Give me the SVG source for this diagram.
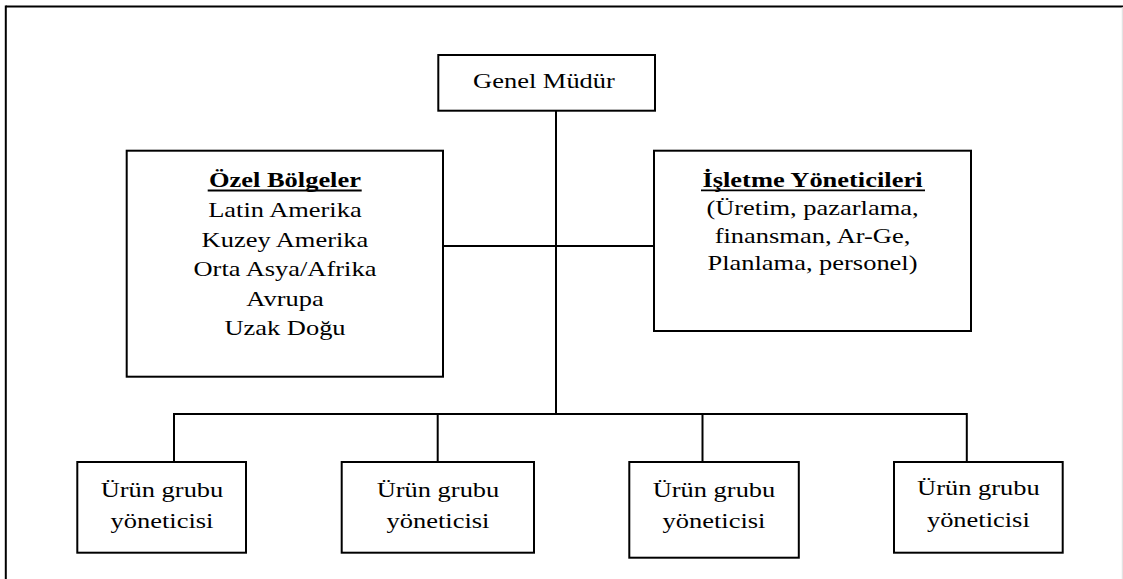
<svg xmlns="http://www.w3.org/2000/svg" width="1123" height="579" viewBox="0 0 1123 579">
  <style>
    .box { fill: #ffffff; stroke: #000000; stroke-width: 2; }
    .wire { fill: none; stroke: #000000; stroke-width: 2; }
    text { font-family: "Liberation Serif", "Times New Roman", serif; font-size: 21px; fill: #000000; text-anchor: middle;
           transform-box: fill-box; transform-origin: center; transform: scaleX(1.26); }
    .head { font-weight: bold; }
    .uline { stroke: #000000; stroke-width: 1.8; }
  </style>

  <rect width="1123" height="579" fill="#ffffff"/>

  <!-- page frame -->
  <g id="frame">
    <line x1="5.8" y1="6.5" x2="1123" y2="6.5" stroke="#000" stroke-width="2"/>
    <line x1="5.8" y1="5.5" x2="5.8" y2="579" stroke="#000" stroke-width="2"/>
    <line x1="1122.3" y1="7" x2="1122.3" y2="579" stroke="#dcdcdc" stroke-width="1"/>
  </g>

  <!-- connectors -->
  <g id="connectors">
    <line class="wire" x1="556" y1="110.7" x2="556" y2="414"/>
    <line class="wire" x1="443" y1="246" x2="654" y2="246"/>
    <line class="wire" x1="174" y1="414" x2="966.8" y2="414"/>
    <line class="wire" x1="174" y1="413" x2="174" y2="462"/>
    <line class="wire" x1="437.7" y1="413" x2="437.7" y2="462"/>
    <line class="wire" x1="702.5" y1="413" x2="702.5" y2="462"/>
    <line class="wire" x1="966.8" y1="413" x2="966.8" y2="462"/>
  </g>

  <g id="genel-mudur">
    <rect class="box" x="438.3" y="55" width="216.7" height="55.7"/>
    <text x="544" y="88">Genel Müdür</text>
  </g>

  <g id="ozel-bolgeler">
    <rect class="box" x="126.7" y="150.7" width="316.3" height="226"/>
    <text class="head" x="285" y="187.5">Özel Bölgeler</text>
    <line class="uline" x1="207.7" y1="190.5" x2="361.7" y2="190.5"/>
    <text x="285" y="217.1">Latin Amerika</text>
    <text x="285" y="246.7">Kuzey Amerika</text>
    <text x="285" y="276.3">Orta Asya/Afrika</text>
    <text x="285" y="305.9">Avrupa</text>
    <text x="285" y="335.5">Uzak Doğu</text>
  </g>

  <g id="isletme-yoneticileri">
    <rect class="box" x="654" y="150.7" width="317" height="180.3"/>
    <text class="head" x="812.5" y="187">İşletme Yöneticileri</text>
    <line class="uline" x1="701" y1="190.3" x2="925" y2="190.3"/>
    <text x="812.5" y="214.8">(Üretim, pazarlama,</text>
    <text x="812.5" y="242.6">finansman, Ar-Ge,</text>
    <text x="812.5" y="270.4">Planlama, personel)</text>
  </g>

  <g id="urun-grubu-1">
    <rect class="box" x="77.3" y="462" width="168.7" height="90.7"/>
    <text x="162" y="496.7">Ürün grubu</text>
    <text x="162" y="528">yöneticisi</text>
  </g>

  <g id="urun-grubu-2">
    <rect class="box" x="341.7" y="462" width="192.3" height="90.7"/>
    <text x="438" y="496.7">Ürün grubu</text>
    <text x="438" y="528">yöneticisi</text>
  </g>

  <g id="urun-grubu-3">
    <rect class="box" x="629.3" y="462" width="169.5" height="95.7"/>
    <text x="714" y="496.7">Ürün grubu</text>
    <text x="714" y="528">yöneticisi</text>
  </g>

  <g id="urun-grubu-4">
    <rect class="box" x="894" y="462" width="168.7" height="90.7"/>
    <text x="978.4" y="495.5">Ürün grubu</text>
    <text x="978.4" y="527">yöneticisi</text>
  </g>
</svg>
